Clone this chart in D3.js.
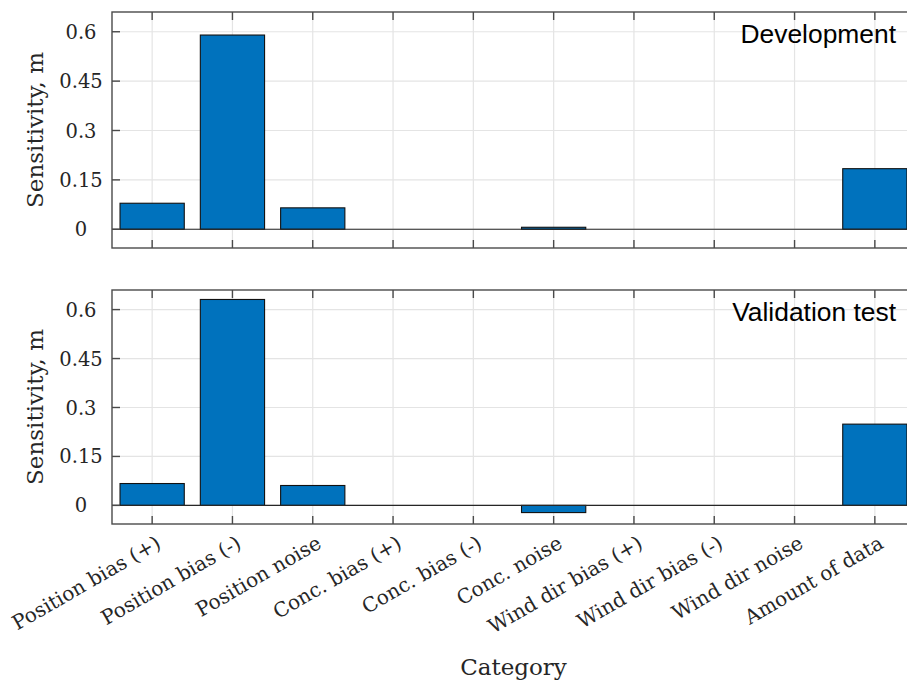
<!DOCTYPE html>
<html><head><meta charset="utf-8">
<script src="https://cdn.jsdelivr.net/npm/d3@7"></script>
<style>body{margin:0;background:#fff}svg{display:block}</style>
</head><body>
<script>
const categories = ["Position bias (+)","Position bias (-)","Position noise","Conc. bias (+)","Conc. bias (-)","Conc. noise","Wind dir bias (+)","Wind dir bias (-)","Wind dir noise","Amount of data"];
const developmentValues = [0.079, 0.590, 0.065, 0, 0, 0.006, 0, 0, 0, 0.184];
const validationValues  = [0.067, 0.631, 0.061, 0, 0, -0.022, 0, 0, 0, 0.249];
const yTicks = [0, 0.15, 0.3, 0.45, 0.6];
const yTickLabels = ["0", "0.15", "0.3", "0.45", "0.6"];
const panelTitles = ["Development", "Validation test"];
const yLabel = "Sensitivity, m";
const xLabel = "Category";

const W = 907, H = 682;
const svg = d3.select("body").append("svg").attr("width", W).attr("height", H);

const x = d3.scaleLinear().domain([0.5, categories.length + 0.5]).range([112, 915]);
const barW = (x(1) - x(0)) * 0.8;
const axisColor = "#4a4a4a", gridColor = "#e4e4e4", barColor = "#0072BD";
const serif = "'DejaVu Serif', serif";

const panels = [
  {values: developmentValues, title: panelTitles[0], top: 12, bottom: 248},
  {values: validationValues, title: panelTitles[1], top: 290, bottom: 524}
];

panels.forEach((p, pi) => {
  const y = d3.scaleLinear().domain([-0.057, 0.66]).range([p.bottom, p.top]);
  const g = svg.append("g");
  g.selectAll(".vg").data(categories).enter().append("line")
    .attr("x1", (d,i) => x(i+1)).attr("x2", (d,i) => x(i+1))
    .attr("y1", p.top).attr("y2", p.bottom)
    .attr("stroke", gridColor).attr("stroke-width", 1.2);
  g.selectAll(".hg").data(yTicks).enter().append("line")
    .attr("x1", x.range()[0]).attr("x2", x.range()[1])
    .attr("y1", d => y(d)).attr("y2", d => y(d))
    .attr("stroke", gridColor).attr("stroke-width", 1.2);
  g.selectAll(".bar").data(p.values).enter().append("rect")
    .attr("x", (d,i) => x(i+1) - barW/2)
    .attr("width", barW)
    .attr("y", d => Math.min(y(d), y(0)))
    .attr("height", d => Math.abs(y(d) - y(0)))
    .attr("fill", barColor).attr("stroke", "#111").attr("stroke-width", 1.1);
  g.append("line").attr("x1", x.range()[0]).attr("x2", x.range()[1])
    .attr("y1", y(0)).attr("y2", y(0)).attr("stroke", "#262626").attr("stroke-width", 1.1);
  g.append("rect").attr("x", x.range()[0]).attr("y", p.top)
    .attr("width", x.range()[1]-x.range()[0]).attr("height", p.bottom - p.top)
    .attr("fill", "none").attr("stroke", axisColor).attr("stroke-width", 1.4);
  const tl = 8;
  categories.forEach((c,i) => {
    g.append("line").attr("x1", x(i+1)).attr("x2", x(i+1)).attr("y1", p.bottom).attr("y2", p.bottom - tl).attr("stroke", axisColor).attr("stroke-width", 1.4);
    g.append("line").attr("x1", x(i+1)).attr("x2", x(i+1)).attr("y1", p.top).attr("y2", p.top + tl).attr("stroke", axisColor).attr("stroke-width", 1.4);
  });
  yTicks.forEach(t => {
    g.append("line").attr("x1", x.range()[0]).attr("x2", x.range()[0] + tl).attr("y1", y(t)).attr("y2", y(t)).attr("stroke", axisColor).attr("stroke-width", 1.4);
    g.append("line").attr("x1", x.range()[1]).attr("x2", x.range()[1] - tl).attr("y1", y(t)).attr("y2", y(t)).attr("stroke", axisColor).attr("stroke-width", 1.4);
  });
  g.selectAll(".yl").data(yTicks).enter().append("text")
    .attr("x", 81).attr("y", d => y(d)).attr("dy", "0.36em")
    .attr("text-anchor", "middle").attr("font-family", serif).attr("font-size", 19.5)
    .attr("fill", "#262626").text((d,i) => yTickLabels[i]);
  g.append("text").attr("transform", `translate(43,${(p.top+p.bottom)/2}) rotate(-90)`)
    .attr("text-anchor", "middle").attr("font-family", serif).attr("font-size", 23)
    .attr("fill", "#262626").text(yLabel);
  g.append("text").attr("x", 896).attr("y", p.top + 30.5)
    .attr("text-anchor", "end").attr("font-family", "'Liberation Sans', Arial, sans-serif")
    .attr("font-size", 26.4).attr("fill", "#000").text(p.title);
  if (pi === 1) {
    g.selectAll(".xl").data(categories).enter().append("text")
      .attr("transform", (d,i) => `translate(${x(i+1)+10},547) rotate(-30)`)
      .attr("text-anchor", "end").attr("font-family", serif).attr("font-size", 20)
      .attr("fill", "#262626").text(d => d);
  }
});

svg.append("text").attr("x", (x.range()[0] + x.range()[1]) / 2).attr("y", 675)
  .attr("text-anchor", "middle").attr("font-family", serif).attr("font-size", 23)
  .attr("fill", "#262626").text(xLabel);
</script>
</body></html>
